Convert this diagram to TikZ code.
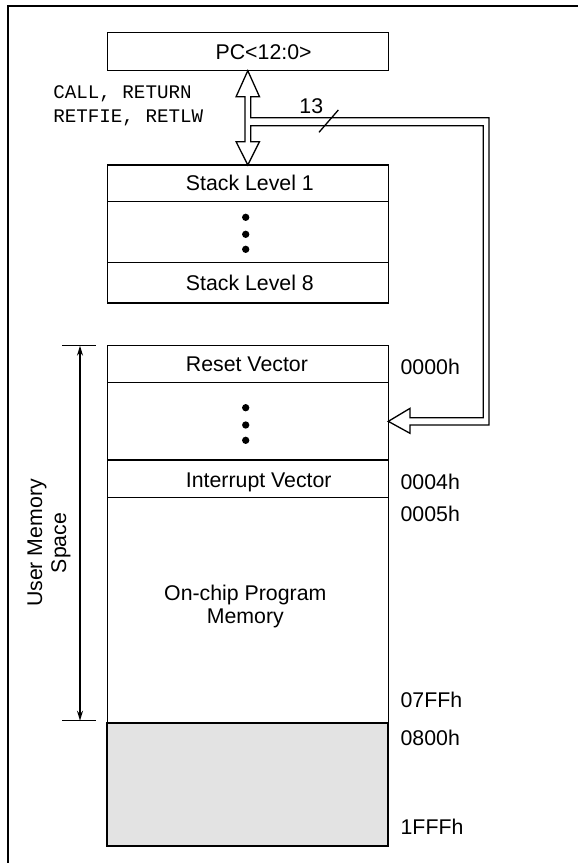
\documentclass[tikz,border=0pt]{standalone}
\usepackage{fontspec}
\setmainfont{Liberation Sans}
\setmonofont{Liberation Mono}
\usetikzlibrary{arrows.meta}

\tikzset{
  row/.style={draw, line width=1.3pt, minimum width=281pt, inner sep=0pt,
    outer sep=0pt, anchor=north west},
  lbl/.style={anchor=base west, inner sep=0pt, font=\fontsize{21.3}{23}\selectfont},
  dot/.style={circle, fill, inner sep=0pt, minimum size=7.3pt}
}

\begin{document}
\begin{tikzpicture}[x=1pt, y=-1pt, >={Stealth[length=10pt,width=6pt]}, line width=1.3pt]
    \useasboundingbox (0,0) rectangle (578,863);
    \clip (0,0) rectangle (578,863);
    % outer frame
    \draw[line width=2pt] (8,6) rectangle (600,890);

    % program counter
    \node[row, minimum height=38pt] (pc) at (107.3,32.7) {};
    \node[lbl] (pctxt) at (215,59.3) {PC<12:0>};

    % stack levels
    \node[row, minimum height=36.7pt] (stk1) at (107.3,165) {};
    \node[row, minimum height=61pt] (stkdots) at (107.3,201.7) {};
    \node[row, minimum height=40.3pt] (stk8) at (107.3,262.7) {};
    \node[lbl] (stk1txt) at (185.3,190) {Stack Level 1};
    \node[lbl] (stk8txt) at (185.3,290) {Stack Level 8};
    \node[dot] (sd1) at (245.7,217.3) {};
    \node[dot] (sd2) at (245.7,234.3) {};
    \node[dot] (sd3) at (245.7,249.3) {};

    % program memory map
    \node[row, minimum height=37pt] (reset) at (107.3,345.7) {};
    \node[row, minimum height=77.3pt] (rdots) at (107.3,382.7) {};
    \node[row, minimum height=37.3pt] (intvec) at (107.3,460) {};
    \node[row, minimum height=226pt] (onchip) at (107.3,497.3) {};
    \node[row, minimum height=122.7pt, fill={rgb,255:red,227;green,227;blue,227},
        line width=2pt] (ext) at (107.3,723.3) {};
    \node[lbl] (resettxt) at (185.3,371) {Reset Vector};
    \node[lbl] (inttxt) at (185.3,487.3) {Interrupt Vector};
    \node[dot] (rd1) at (245.7,407.7) {};
    \node[dot] (rd2) at (245.7,425) {};
    \node[dot] (rd3) at (245.7,440.3) {};
    \node[align=center, inner sep=0pt, font=\fontsize{21.3}{23}\selectfont]
        (onchiptxt) at (245.3,606) {On-chip Program\\Memory};

    % addresses
    \node[lbl] (a0000) at (400,374) {0000h};
    \node[lbl] (a0004) at (400,489.3) {0004h};
    \node[lbl] (a0005) at (400,521.7) {0005h};
    \node[lbl] (a07ff) at (400,707.3) {07FFh};
    \node[lbl] (a0800) at (400,745.7) {0800h};
    \node[lbl] (a1fff) at (400,834.3) {1FFFh};

    % hollow bus: PC <-> stack, PC -> memory
    \draw[fill=white]
        (pc.south) -- ++(11.7,26) -- ++(-8.8,0) -- ++(0,21)
        -- ++(238.3,0) -- ++(0,307.3) -- ++(-79,0) -- ++(0,8.3)
        -- (rdots.east) -- ++(21.7,-13) -- ++(0,9.35) -- ++(73.3,0)
        -- ++(0,-292) -- ++(-232.6,0) -- ++(0,16) -- ++(8.8,0)
        -- (stk1.north) -- ++(-11.7,-23.3) -- ++(8.8,0) -- ++(0,-45)
        -- ++(-8.8,0) -- cycle;
    \node[align=left, anchor=west, inner sep=0pt,
        font=\ttfamily\fontsize{19.2}{24}\selectfont]
        (calltxt) at (52.7,106) {CALL, RETURN\\RETFIE, RETLW};

    % bus width mark
    \draw (319,132.3) -- (338.3,110);
    \node[lbl, anchor=base] (width) at (311.3,113.5) {13};

    % user memory space
    \coordinate (umtop) at (80,345.7);
    \coordinate (umbot) at (80,720.7);
    \draw (62.3,345.7) -- (95.7,345.7);
    \draw (62.3,720.7) -- (95.7,720.7);
    \draw[<->] (umtop) -- (umbot);
    \node[rotate=90, align=center, inner sep=0pt,
        font=\fontsize{21.3}{24}\selectfont] (umtxt) at (49,543) {User Memory\\Space};
\end{tikzpicture}
\end{document}
